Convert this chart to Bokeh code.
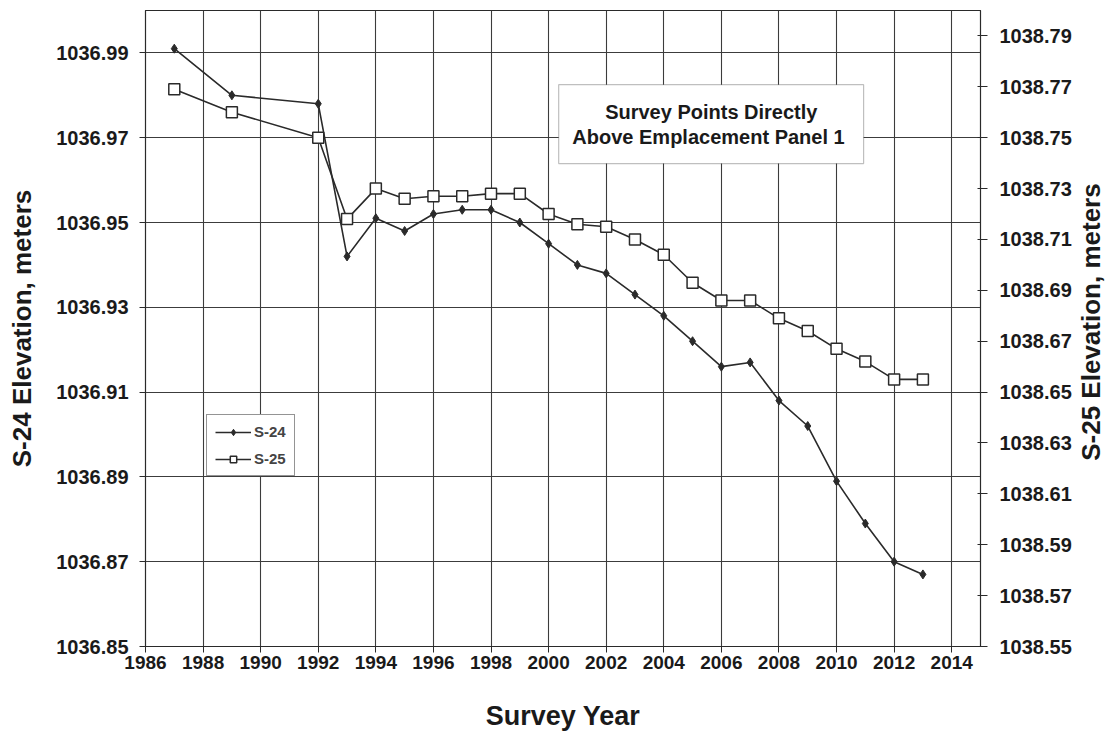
import math
from bokeh.plotting import figure
from bokeh.layouts import row
from bokeh.models import (Range1d, LinearAxis, FixedTicker, PrintfTickFormatter,
                          Legend, LegendItem, BoxAnnotation, Label)
from bokeh.embed import file_html
from bokeh.resources import INLINE

# ---- data ----
years = [1987, 1989, 1992, 1993, 1994, 1995, 1996, 1997, 1998, 1999, 2000,
         2001, 2002, 2003, 2004, 2005, 2006, 2007, 2008, 2009, 2010, 2011,
         2012, 2013]
s24 = [1036.991, 1036.980, 1036.978, 1036.942, 1036.951, 1036.948, 1036.952,
       1036.953, 1036.953, 1036.950, 1036.945, 1036.940, 1036.938, 1036.933,
       1036.928, 1036.922, 1036.916, 1036.917, 1036.908, 1036.902, 1036.889,
       1036.879, 1036.870, 1036.867]
s25 = [1038.769, 1038.760, 1038.750, 1038.718, 1038.730, 1038.726, 1038.727,
       1038.727, 1038.728, 1038.728, 1038.720, 1038.716, 1038.715, 1038.710,
       1038.704, 1038.693, 1038.686, 1038.686, 1038.679, 1038.674, 1038.667,
       1038.662, 1038.655, 1038.655]
x_ticks = [1986, 1988, 1990, 1992, 1994, 1996, 1998, 2000, 2002, 2004, 2006,
           2008, 2010, 2012, 2014]
left_ticks = [1036.85, 1036.87, 1036.89, 1036.91, 1036.93, 1036.95, 1036.97,
              1036.99]
right_ticks = [1038.55, 1038.57, 1038.59, 1038.61, 1038.63, 1038.65, 1038.67,
               1038.69, 1038.71, 1038.73, 1038.75, 1038.77, 1038.79]
title_lines = ["Survey Points Directly", "Above Emplacement  Panel 1"]
right_label = "S-25 Elevation, meters"

FONT = "Liberation Sans"
DARK = "#2a2a2a"
H = 741

p = figure(width=1075, height=H,
           x_range=Range1d(1986, 2015), y_range=Range1d(1036.85, 1037.00),
           output_backend="svg", toolbar_location=None,
           min_border_left=145, min_border_right=95,
           min_border_top=10, min_border_bottom=95)
p.extra_y_ranges = {"r": Range1d(1038.55, 1038.80)}

p.outline_line_color = DARK
p.outline_line_width = 1.2
p.background_fill_color = "white"
p.border_fill_color = "white"

# grid
p.xgrid.ticker = FixedTicker(ticks=x_ticks)
p.ygrid.ticker = FixedTicker(ticks=left_ticks)
for g in (p.xgrid, p.ygrid):
    g.grid_line_color = "#3c3c3c"
    g.grid_line_width = 1.1

def style_axis(ax, label_size):
    ax.axis_line_color = DARK
    ax.major_tick_line_color = DARK
    ax.minor_tick_line_color = None
    ax.major_label_text_font = FONT
    ax.major_label_text_font_style = "bold"
    ax.major_label_text_color = "#1a1a1a"
    ax.axis_label_text_font = FONT
    ax.axis_label_text_font_style = "bold"
    ax.axis_label_text_color = "#1a1a1a"
    ax.axis_label_text_font_size = label_size

# x axis
xa = p.xaxis[0]
xa.ticker = FixedTicker(ticks=x_ticks)
xa.axis_label = "Survey Year"
style_axis(xa, "27px")
xa.major_label_text_font_size = "19px"
xa.major_tick_out = 6
xa.major_tick_in = 0
xa.major_label_standoff = 3
xa.axis_label_standoff = 29

# left axis
ya = p.yaxis[0]
ya.ticker = FixedTicker(ticks=left_ticks)
ya.formatter = PrintfTickFormatter(format="%.2f")
ya.axis_label = "S-24 Elevation, meters"
style_axis(ya, "26px")
ya.major_label_text_font_size = "20px"
ya.major_tick_out = 6
ya.major_tick_in = 0
ya.major_label_standoff = 11
ya.axis_label_standoff = 16

# right axis
ra = LinearAxis(y_range_name="r", ticker=FixedTicker(ticks=right_ticks),
                formatter=PrintfTickFormatter(format="%.2f"))
style_axis(ra, "26px")
ra.major_label_text_font_size = "20px"
ra.major_tick_out = 7
ra.major_tick_in = 3
ra.major_label_standoff = 12
p.add_layout(ra, "right")

# series
l24 = p.line(years, s24, line_color=DARK, line_width=1.6)
m24 = p.scatter(years, s24, marker="diamond", size=9, fill_color=DARK,
                line_color=DARK)
l25 = p.line(years, s25, line_color=DARK, line_width=1.6, y_range_name="r")
m25 = p.scatter(years, s25, marker="square", size=11, fill_color="white",
                line_color=DARK, line_width=1.5, y_range_name="r")

legend = Legend(items=[LegendItem(label="S-24", renderers=[l24, m24]),
                       LegendItem(label="S-25", renderers=[l25, m25])],
                location=(61, 170))
legend.border_line_color = DARK
legend.border_line_width = 1.2
legend.background_fill_color = "white"
legend.background_fill_alpha = 1
legend.label_text_font = FONT
legend.label_text_font_style = "bold"
legend.label_text_font_size = "15px"
legend.glyph_width = 36
legend.glyph_height = 16
legend.label_standoff = 3
legend.padding = 8
legend.spacing = 10
legend.margin = 0
p.add_layout(legend, "center")

# annotation box
box = BoxAnnotation(left=2000.35, right=2010.94, top=1036.9825,
                    bottom=1036.9639, fill_color="white", fill_alpha=1,
                    line_color=DARK, line_width=1.2)
p.add_layout(box)
for txt, yv in zip(title_lines, [1036.9761, 1036.9702]):
    p.add_layout(Label(x=2005.65, y=yv, text=txt, text_align="center",
                       text_baseline="middle", text_font=FONT,
                       text_font_style="bold", text_font_size="20px",
                       text_color="#1a1a1a"))

# narrow strip holding the right axis title, reading bottom-to-top
p2 = figure(width=32, height=H, x_range=Range1d(0, 1), y_range=Range1d(0, H),
            output_backend="svg", toolbar_location=None,
            x_axis_location=None, y_axis_location=None, min_border=0)
p2.outline_line_color = None
p2.grid.visible = False
p2.background_fill_color = "white"
p2.border_fill_color = "white"
p2.add_layout(Label(x=0.47, y=H - 327 - 36, text=right_label,
                    angle=math.pi / 2, text_align="center",
                    text_baseline="middle", text_font=FONT,
                    text_font_style="bold", text_font_size="26px",
                    text_color="#1a1a1a"))

open("out.html", "w").write(file_html(row(p, p2), INLINE))
